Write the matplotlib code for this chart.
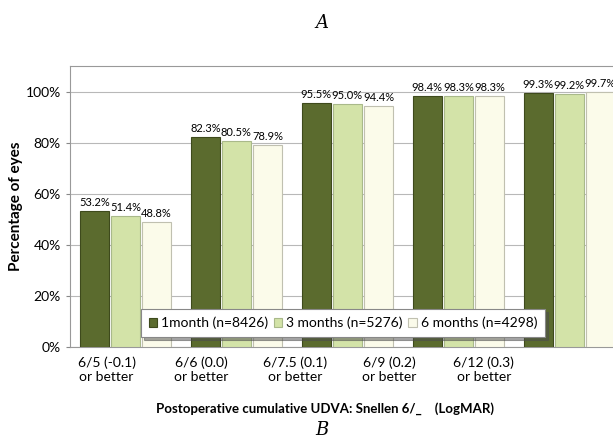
import numpy as np
import matplotlib
matplotlib.use('Agg')
from matplotlib import pyplot as plt

categories = ['6/5 (-0.1)\nor better', '6/6 (0.0)\nor better', '6/7.5 (0.1)\nor better',
              '6/9 (0.2)\nor better', '6/12 (0.3)\nor better']
one_month = [53.2, 82.3, 95.5, 98.4, 99.3]
three_months = [51.4, 80.5, 95.0, 98.3, 99.2]
six_months = [48.8, 78.9, 94.4, 98.3, 99.7]
series_names = ['1month (n=8426)', '3 months (n=5276)', '6 months (n=4298)']

plt.rcParams['font.family'] = ['Lato', 'DejaVu Sans']

fig = plt.figure(figsize=(6.13, 4.47), dpi=100)
ax = fig.add_axes([0.1142, 0.2237, 0.905, 0.6286])

x = np.arange(len(categories))
w = 0.26
step = 0.28
colors = ['#5b6b2e', '#d3e3a8', '#fbfbea']
edges = ['#3e4a1c', '#a9b98a', '#c0c0b0']
for i, vals in enumerate([one_month, three_months, six_months]):
    pos = x + (i - 1) * step
    ax.bar(pos, vals, w, color=colors[i], edgecolor=edges[i], linewidth=0.8,
           label=series_names[i], zorder=3)
    for p, v in zip(pos, vals):
        ax.text(p, v + 1.2, '%.1f%%' % v, ha='center', va='bottom', fontsize=8, zorder=4)

ax.set_xlim(-0.5, 4.5)
ax.set_ylim(0, 110)
ax.set_yticks([0, 20, 40, 60, 80, 100])
ax.set_yticklabels(['0%', '20%', '40%', '60%', '80%', '100%'], fontsize=10)
ax.yaxis.grid(True, color='#b8b8b8', linewidth=0.8, zorder=0)
ax.tick_params(axis='y', length=3, color='#888888')
# category labels in the original sit left of the bar groups
ax.set_xticks(x * 0.85 - 0.17)
ax.set_xticklabels(categories, fontsize=10)
ax.tick_params(axis='x', length=0, pad=7)
for s in ax.spines.values():
    s.set_color('#999999')

ax.set_ylabel('Percentage of eyes', fontsize=11, fontweight='bold', labelpad=2)
fig.text(0.53, 0.087, 'Postoperative cumulative UDVA: Snellen 6/_    (LogMAR)',
         ha='center', va='center', fontsize=9.5, fontweight='bold')

leg = ax.legend(loc='lower left', bbox_to_anchor=(0.128, 0.036), ncol=3, fontsize=10,
                frameon=True, fancybox=False, shadow=True, handlelength=0.6,
                handleheight=0.6, handletextpad=0.3, columnspacing=0.4,
                borderpad=0.55, borderaxespad=0)
leg.get_frame().set_edgecolor('#888888')
leg.get_frame().set_linewidth(0.8)

fig.text(0.525, 0.948, 'A', ha='center', va='center', fontsize=13,
         family='DejaVu Serif', style='italic')
fig.text(0.525, 0.038, 'B', ha='center', va='center', fontsize=13,
         family='DejaVu Serif', style='italic')

plt.savefig('out.png', dpi=100)
